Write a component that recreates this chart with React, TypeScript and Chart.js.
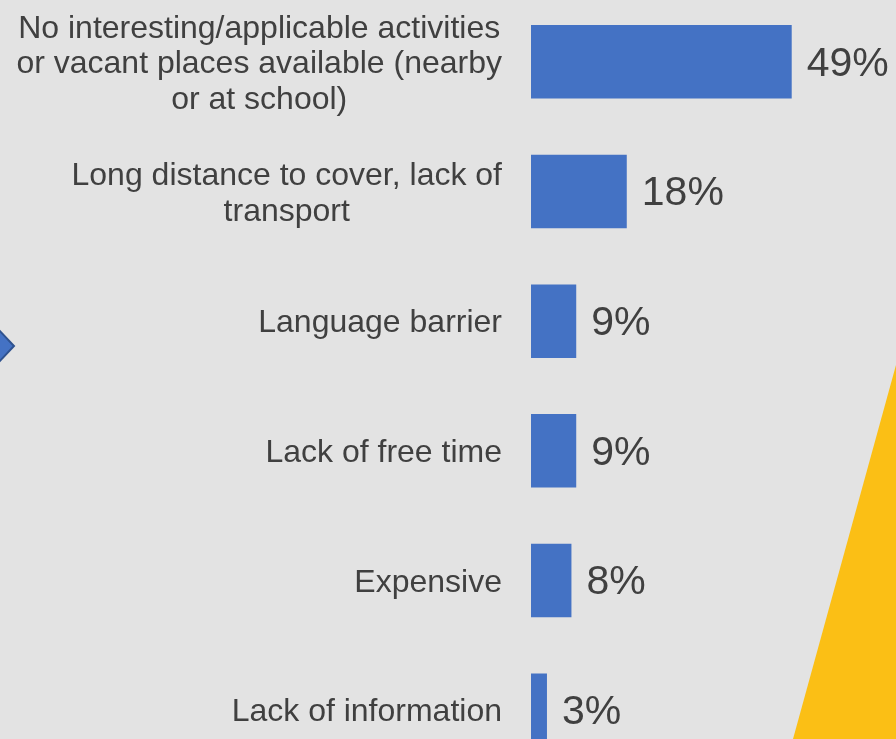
import React, { useEffect, useRef } from "react";
import { Chart, registerables } from "chart.js";

Chart.register(...registerables);

const categories: string[][] = [
  ["No interesting/applicable activities", "or vacant places available (nearby", "or at school)"],
  ["Long distance to cover, lack of", "transport"],
  ["Language barrier"],
  ["Lack of free time"],
  ["Expensive"],
  ["Lack of information"],
];
const values: number[] = [49, 18, 8.5, 8.5, 7.6, 3.0];
const valueLabels: string[] = ["49%", "18%", "9%", "9%", "8%", "3%"];

const FONT = '"Liberation Sans", Arial, Helvetica, sans-serif';
const TEXT = "#404040";
const BG = "#e3e3e3";
const BAR = "#4472C4";

const decorPlugin = {
  id: "decor",
  beforeDraw(chart: any) {
    const { ctx, width, height } = chart;
    ctx.save();
    ctx.fillStyle = BG;
    ctx.fillRect(0, 0, width, height);
    // yellow shape at bottom right
    ctx.fillStyle = "#FBBF15";
    ctx.beginPath();
    ctx.moveTo(896, 368);
    ctx.lineTo(896, 742);
    ctx.lineTo(793, 742);
    ctx.closePath();
    ctx.fill();
    // blue arrow tip at left
    ctx.fillStyle = BAR;
    ctx.strokeStyle = "#2F528F";
    ctx.lineWidth = 2;
    ctx.beginPath();
    ctx.moveTo(-2, 332);
    ctx.lineTo(14, 349);
    ctx.lineTo(-2, 366);
    ctx.closePath();
    ctx.fill();
    ctx.stroke();
    ctx.restore();
  },
};

const labelPlugin = {
  id: "labels",
  afterDatasetsDraw(chart: any) {
    const { ctx, chartArea } = chart;
    const y = chart.scales.y;
    const meta = chart.getDatasetMeta(0);
    ctx.save();
    ctx.fillStyle = TEXT;
    // category labels: block right-aligned, lines centered
    ctx.font = `32px ${FONT}`;
    ctx.textBaseline = "middle";
    ctx.textAlign = "center";
    const lineH = 35.5;
    const rightX = chartArea.left - 29;
    categories.forEach((lines, i) => {
      const cy = y.getPixelForValue(i) + 2.5;
      const maxW = Math.max(...lines.map((l) => ctx.measureText(l).width));
      const cx = rightX - maxW / 2;
      const top = cy - ((lines.length - 1) * lineH) / 2;
      lines.forEach((l, j) => ctx.fillText(l, cx, top + j * lineH));
    });
    // value labels
    ctx.font = `41px ${FONT}`;
    ctx.textAlign = "left";
    meta.data.forEach((bar: any, i: number) => {
      ctx.fillText(valueLabels[i], bar.x + 15, bar.y + 2.5);
    });
    ctx.restore();
  },
};

export default function App() {
  const ref = useRef<HTMLCanvasElement | null>(null);
  useEffect(() => {
    if (!ref.current) return;
    const chart = new Chart(ref.current, {
      type: "bar",
      data: {
        labels: categories.map((c) => c.join(" ")),
        datasets: [
          {
            data: values,
            backgroundColor: BAR,
            borderWidth: 0,
            barPercentage: 0.567,
            categoryPercentage: 1,
          },
        ],
      },
      options: {
        indexAxis: "y",
        responsive: false,
        animation: false,
        devicePixelRatio: 1,
        layout: { padding: { left: 531, right: 0, top: 0, bottom: 0 } },
        plugins: { legend: { display: false }, tooltip: { enabled: false } },
        scales: {
          x: { display: false, min: 0, max: 68.6 },
          y: { display: false },
        },
      },
      plugins: [decorPlugin, labelPlugin],
    });
    return () => chart.destroy();
  }, []);
  return (
    <div
      style={{
        position: "fixed",
        left: 0,
        top: 0,
        width: 896,
        height: 739,
        overflow: "hidden",
        background: BG,
      }}
    >
      <canvas
        ref={ref}
        width={896}
        height={778}
        style={{ position: "absolute", left: 0, top: -3, width: 896, height: 778 }}
      />
    </div>
  );
}
